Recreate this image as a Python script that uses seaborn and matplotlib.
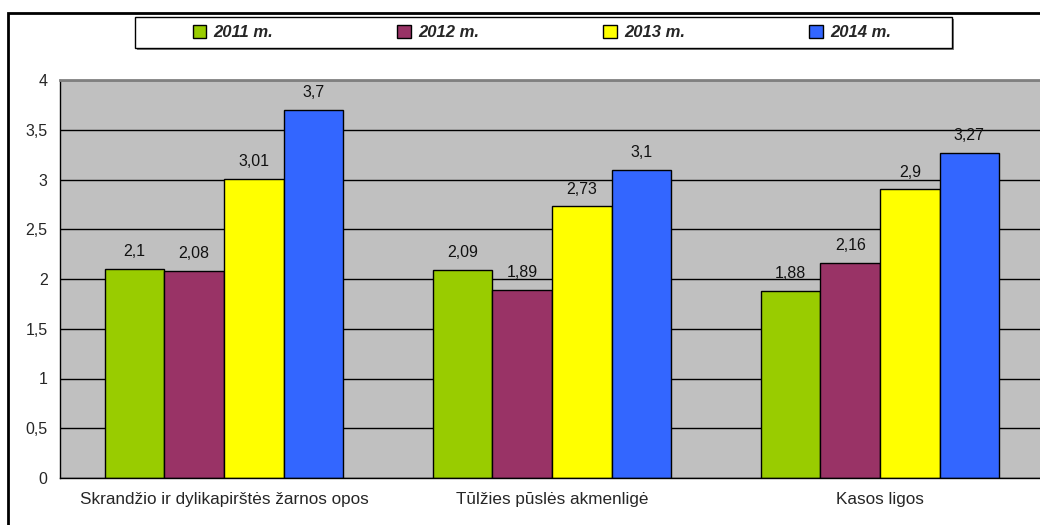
import pandas as pd
import matplotlib
matplotlib.use("Agg")
import matplotlib.pyplot as plt
from matplotlib.patches import Rectangle
import seaborn as sns

categories = ["Skrandžio ir dylikapirštės žarnos opos", "Tūlžies pūslės akmenligė", "Kasos ligos"]
years = ["2011 m.", "2012 m.", "2013 m.", "2014 m."]
vals_2011 = [2.1, 2.09, 1.88]
vals_2012 = [2.08, 1.89, 2.16]
vals_2013 = [3.01, 2.73, 2.9]
vals_2014 = [3.7, 3.1, 3.27]
colors = ["#99CC00", "#993366", "#FFFF00", "#3366FF"]

rows = []
for yr, vals in zip(years, [vals_2011, vals_2012, vals_2013, vals_2014]):
    for cat, v in zip(categories, vals):
        rows.append({"cat": cat, "year": yr, "val": v})
df = pd.DataFrame(rows)

sns.set_style("white")
plt.rcParams["font.family"] = ["Liberation Sans", "DejaVu Sans"]

W, H = 1040, 525
fig = plt.figure(figsize=(10.4, 5.25), dpi=100)
ax = fig.add_axes([60 / W, 47 / H, 984 / W, 398 / H])
ax.set_facecolor("#C0C0C0")

sns.barplot(data=df, x="cat", y="val", hue="year", order=categories, hue_order=years,
            palette=colors, width=0.726, gap=0, edgecolor="black", linewidth=1,
            saturation=1, ax=ax)

for cont in ax.containers:
    ax.bar_label(cont, fmt=lambda v: f"{v:g}".replace(".", ","), padding=7, fontsize=11.5,
                 color="#111111")

ax.set_ylim(0, 4)
ax.set_xlim(-0.5, 2.5)
ax.set_yticks([0, 0.5, 1, 1.5, 2, 2.5, 3, 3.5, 4])
ax.set_yticklabels(["0", "0,5", "1", "1,5", "2", "2,5", "3", "3,5", "4"], fontsize=11.5)
ax.set_xticks([0, 1, 2])
ax.set_xticklabels(categories, fontsize=12.3)
ax.tick_params(axis="x", which="major", length=0, pad=10)
ax.set_xticks([-0.5, 0.5, 1.5, 2.5], minor=True)
ax.tick_params(axis="x", which="minor", length=5, color="black", direction="out")
ax.tick_params(axis="y", length=5, color="black", direction="out", pad=4)
ax.yaxis.grid(True, color="black", linewidth=1)
ax.set_axisbelow(True)
ax.set_xlabel("")
ax.set_ylabel("")
for s in ["left", "bottom"]:
    ax.spines[s].set_color("black")
    ax.spines[s].set_linewidth(1)
for s in ["top", "right"]:
    ax.spines[s].set_color("#808080")
    ax.spines[s].set_linewidth(2)

# legend box with a small grey shadow, drawn by hand
x0, x1, y0, y1 = 135, 952, 17, 48
fig.add_artist(Rectangle(((x0 + 2) / W, 1 - (y1 + 2) / H), (x1 - x0) / W, (y1 - y0) / H,
                         transform=fig.transFigure, facecolor="#808080", edgecolor="none"))
fig.add_artist(Rectangle((x0 / W, 1 - y1 / H), (x1 - x0) / W, (y1 - y0) / H,
                         transform=fig.transFigure, facecolor="white", edgecolor="black",
                         linewidth=1))

handles, labels = ax.get_legend_handles_labels()
ax.get_legend().remove()
leg = fig.legend(handles, labels, loc="center", ncol=4, frameon=False,
                 bbox_to_anchor=(542 / W, 1 - 32.5 / H),
                 handlelength=0.8, handleheight=0.8, handletextpad=0.45,
                 columnspacing=7.45, borderpad=0,
                 prop={"weight": "bold", "style": "italic", "size": 12})

fig.add_artist(Rectangle((8 / W, -0.1), 1.2, 1 - 13 / H + 0.1, transform=fig.transFigure,
                         fill=False, edgecolor="black", linewidth=2))

fig.savefig("out.png", dpi=100)
